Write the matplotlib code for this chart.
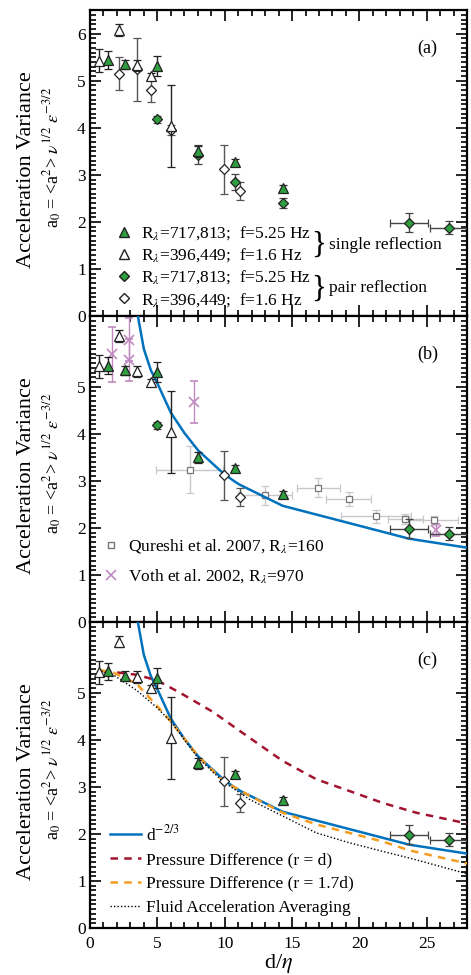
import matplotlib
matplotlib.use("Agg")
import matplotlib.pyplot as plt
from matplotlib.ticker import MultipleLocator
from matplotlib.lines import Line2D

plt.rcParams["font.family"] = ["Liberation Serif", "DejaVu Serif"]
plt.rcParams["mathtext.fontset"] = "stix"

# ---- data ----
# single reflection, R_lambda = 717,813 (filled green triangles)
sh_x = [1.36, 2.6, 4.99, 8.05, 10.77, 14.3]
sh_y = [5.45, 5.35, 5.31, 3.50, 3.27, 2.72]
sh_e = [0.19, 0.10, 0.21, 0.12, 0.06, 0.07]
# single reflection, R_lambda = 396,449 (open triangles)
sl_x = [0.69, 2.17, 3.46, 4.52, 6.0]
sl_y = [5.43, 6.08, 5.33, 5.10, 4.04]
sl_e = [0.25, 0.12, 0.12, 0.07, 0.87]
# pair reflection, R_lambda = 717,813 (filled green diamonds)
ph_x = [4.99, 8.05, 10.77, 14.3, 23.7, 26.67]
ph_y = [4.18, 3.43, 2.84, 2.40, 1.98, 1.88]
ph_e = [0.07, 0.20, 0.17, 0.10, 0.20, 0.13]
ph_xe = [0, 0, 0, 0, 1.4, 1.4]
# pair reflection, R_lambda = 396,449 (open diamonds)
pl_x = [2.17, 3.46, 4.52, 6.0, 9.93, 11.1]
pl_y = [5.15, 5.24, 4.80, 3.95, 3.12, 2.65]
pl_e = [0.35, 0.67, 0.26, 0.10, 0.52, 0.19]

# which pair-reflection points appear in panels (b) and (c)
ph_keep = {"b": [0, 4, 5], "c": [4, 5]}
pl_keep = {"b": [4, 5], "c": [4, 5]}

# Qureshi et al. 2007
qu_x = [7.4, 12.96, 16.96, 19.2, 21.26, 23.4, 25.5]
qu_y = [3.24, 2.69, 2.85, 2.62, 2.25, 2.19, 2.16]
qu_xe = [2.5, 2.0, 1.57, 1.65, 2.6, 1.3, 1.85]
qu_ye = [0.50, 0.21, 0.20, 0.15, 0.14, 0.10, 0.10]
# Voth et al. 2002
vo_x = [1.65, 2.89, 2.89, 7.73, 25.7]
vo_y = [5.69, 6.00, 5.57, 4.67, 1.95]
vo_e = [0.58, 0.45, 0.45, 0.45, 0.13]

# model curves
pw_x = [3.46, 4.0, 4.52, 4.99, 6.0, 7.0, 8.05, 9.93, 10.77, 11.1, 14.3, 23.7, 28.0]
pw_y = [6.65, 5.80, 5.35, 5.08, 4.45, 4.02, 3.64, 3.15, 2.98, 2.92, 2.47, 1.77, 1.58]
pd1_x = [1.0, 2.0, 3.46, 4.99, 6.67, 9.13, 11.6, 14.3, 16.8, 19.26, 21.7, 24.2, 28.0]
pd1_y = [5.45, 5.43, 5.38, 5.26, 5.00, 4.59, 4.09, 3.55, 3.16, 2.91, 2.66, 2.45, 2.22]
pd2_x = [0.74, 1.73, 3.46, 4.94, 6.05, 8.0, 9.88, 11.85, 14.3, 16.8, 19.26, 21.7, 23.7, 28.0]
pd2_y = [5.48, 5.43, 5.19, 4.73, 4.37, 3.66, 3.13, 2.81, 2.45, 2.20, 2.02, 1.84, 1.65, 1.37]
fa_x = [0.6, 1.73, 3.46, 4.94, 6.05, 8.0, 9.88, 11.85, 14.3, 16.8, 19.26, 21.7, 24.2, 28.0]
fa_y = [5.48, 5.38, 5.05, 4.69, 4.37, 3.62, 3.11, 2.73, 2.38, 2.02, 1.81, 1.63, 1.45, 1.15]

GREEN = "#2e9e3e"
BLUE = "#0072bd"
RED = "#a2142f"
ORANGE = "#f39c1f"
PURPLE = "#c08ac0"

fig = plt.figure(figsize=(4.71, 9.75), dpi=100)
L, W, H = 0.191, 0.801, 0.3138
axa = fig.add_axes([L, 0.0482 + 2 * H, W, H])
axb = fig.add_axes([L, 0.0482 + H, W, H])
axc = fig.add_axes([L, 0.0482, W, H])


def sel(seq, idx):
    return [seq[i] for i in idx] if idx is not None else seq


def draw_exp(ax, ph_idx=None, pl_idx=None):
    ax.errorbar(sel(pl_x, pl_idx), sel(pl_y, pl_idx), yerr=sel(pl_e, pl_idx), fmt="D",
                ms=5, mfc="white", mec="#222222", mew=0.9, ecolor="#555555",
                elinewidth=1.0, capsize=3, zorder=4)
    ax.errorbar(sel(ph_x, ph_idx), sel(ph_y, ph_idx), yerr=sel(ph_e, ph_idx),
                xerr=sel(ph_xe, ph_idx), fmt="D", ms=5, mfc=GREEN, mec="#222222",
                mew=0.9, ecolor="#444444", elinewidth=1.0, capsize=3, zorder=4)
    ax.errorbar(sl_x, sl_y, yerr=sl_e, fmt="^", ms=7, mfc="white", mec="#222222",
                mew=0.9, ecolor="#222222", elinewidth=1.0, capsize=3, zorder=5)
    ax.errorbar(sh_x, sh_y, yerr=sh_e, fmt="^", ms=7, mfc=GREEN, mec="#222222",
                mew=0.9, ecolor="#222222", elinewidth=1.0, capsize=3, zorder=5)


def style(ax, label, show_x=False, top_label=True):
    ax.set_xlim(0, 28)
    ax.set_ylim(0, 6.5)
    ax.xaxis.set_major_locator(MultipleLocator(5))
    ax.xaxis.set_minor_locator(MultipleLocator(1))
    ax.yaxis.set_major_locator(MultipleLocator(1))
    ax.yaxis.set_minor_locator(MultipleLocator(0.1))
    ax.tick_params(which="both", direction="in", top=True, right=True,
                   labelsize=12.5, width=1.2)
    ax.tick_params(axis="y", pad=3)
    ax.tick_params(axis="x", pad=6)
    ax.tick_params(which="major", length=8)
    ax.tick_params(which="minor", length=4)
    for s in ax.spines.values():
        s.set_linewidth(1.6)
    yt = [0, 1, 2, 3, 4, 5, 6] if top_label else [0, 1, 2, 3, 4, 5]
    ax.set_yticks(yt)
    if not show_x:
        ax.set_xticklabels([])
    else:
        ax.set_xlabel(r"d/$\eta$", fontsize=16, labelpad=0)
    ax.text(0.895, 0.875, label, transform=ax.transAxes, fontsize=13,
            ha="center", va="center")
    ax.text(-0.098, 0.52, r"a$_0$ = <a$^2$> $\nu^{1/2}$ $\varepsilon^{-3/2}$",
            transform=ax.transAxes, rotation=90, fontsize=13,
            ha="center", va="center")
    ax.text(-0.167, 0.48, "Acceleration Variance", transform=ax.transAxes,
            rotation=90, fontsize=16, ha="center", va="center")


# ---- (a) ----
draw_exp(axa)
style(axa, "(a)")
rl = r"R$_{\lambda}$"
h_a = [
    Line2D([], [], ls="none", marker="^", ms=7, mfc=GREEN, mec="#222222"),
    Line2D([], [], ls="none", marker="^", ms=7, mfc="white", mec="#222222"),
    Line2D([], [], ls="none", marker="D", ms=5, mfc=GREEN, mec="#222222"),
    Line2D([], [], ls="none", marker="D", ms=5, mfc="white", mec="#222222"),
]
lab_a = [rl + "=717,813;  f=5.25 Hz", rl + "=396,449;  f=1.6 Hz",
         rl + "=717,813;  f=5.25 Hz", rl + "=396,449;  f=1.6 Hz"]
axa.legend(h_a, lab_a, loc="lower left", bbox_to_anchor=(0.035, -0.015),
           frameon=False, fontsize=12.5, handlelength=1.0, handletextpad=0.5,
           labelspacing=0.25, borderpad=0.2)
axa.text(0.586, 0.232, "}", transform=axa.transAxes, fontsize=22,
         ha="left", va="center")
axa.text(0.586, 0.088, "}", transform=axa.transAxes, fontsize=22,
         ha="left", va="center")
axa.text(0.634, 0.232, "single reflection", transform=axa.transAxes,
         fontsize=12.5, ha="left", va="center")
axa.text(0.634, 0.092, "pair reflection", transform=axa.transAxes,
         fontsize=12.5, ha="left", va="center")

# ---- (b) ----
axb.errorbar(qu_x, qu_y, xerr=qu_xe, yerr=qu_ye, fmt="s", ms=5, mfc="white",
             mec="#777777", mew=0.9, ecolor="#c8c8c8", elinewidth=1.0,
             capsize=3, zorder=2)
axb.errorbar(vo_x, vo_y, yerr=vo_e, fmt="x", ms=7, mec=PURPLE, mew=1.2,
             ecolor=PURPLE, elinewidth=1.0, capsize=3, zorder=2)
axb.plot(pw_x, pw_y, color=BLUE, lw=1.8, zorder=3)
draw_exp(axb, ph_keep["b"], pl_keep["b"])
style(axb, "(b)", top_label=False)
h_b = [Line2D([], [], ls="none", marker="s", ms=5, mfc="white", mec="#777777"),
       Line2D([], [], ls="none", marker="x", ms=7, mec=PURPLE, mew=1.2)]
axb.legend(h_b, ["Qureshi et al. 2007, " + rl + "=160",
                 "Voth et al. 2002, " + rl + "=970"],
           loc="lower left", bbox_to_anchor=(0.0, 0.08), frameon=False,
           fontsize=12.5, handlelength=1.0, handletextpad=0.5,
           labelspacing=0.7, borderpad=0.2)

# ---- (c) ----
axc.plot(pw_x, pw_y, color=BLUE, lw=1.8, zorder=3, label=r"d$^{-2/3}$")
axc.plot(pd1_x, pd1_y, color=RED, lw=1.8, ls=(0, (3, 2.5)), zorder=3,
         label="Pressure Difference (r = d)")
axc.plot(pd2_x, pd2_y, color=ORANGE, lw=1.8, ls=(0, (3, 2.5)), zorder=3,
         label="Pressure Difference (r = 1.7d)")
axc.plot(fa_x, fa_y, color="black", lw=1.0, ls=(0, (1, 1.5)), zorder=3,
         label="Fluid Acceleration Averaging")
draw_exp(axc, ph_keep["c"], pl_keep["c"])
style(axc, "(c)", show_x=True, top_label=False)
hc, lc = axc.get_legend_handles_labels()
axc.legend(hc[:4], lc[:4], loc="lower left", bbox_to_anchor=(0.02, 0.0),
           frameon=False, fontsize=12.5, handlelength=1.8, handletextpad=0.3,
           labelspacing=0.45, borderpad=0.2)

fig.savefig("out.png", dpi=100)
